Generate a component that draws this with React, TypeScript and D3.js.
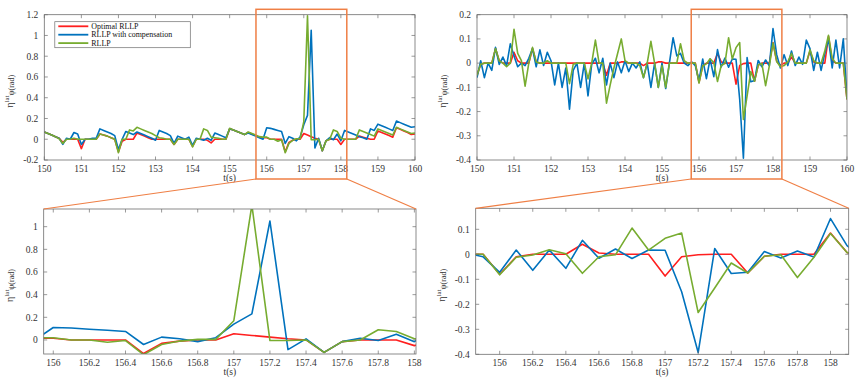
import React from 'react';
import * as d3 from 'd3';

// sampling of the recorded signals
const T0 = 150;
const DT = 0.1;

// lateral error (left column)
const optLat = [
  0.07, 0.055, 0.04, 0.025, 0.01, -0.03, 0.0, 0.0, 0.0, 0.0,
  -0.09, 0.0, 0.0, 0.0, 0.0, 0.05, 0.04, 0.03, 0.015, 0.0,
  -0.12, -0.02, 0.0, 0.0, 0.0, 0.06, 0.045, 0.03, 0.015, 0.0,
  0.0, 0.0, 0.0, 0.0, 0.0, -0.05, 0.0, 0.0, 0.0, 0.0,
  -0.07, 0.0, 0.0, 0.0, -0.01, -0.035, 0.0, 0.0, 0.0, 0.0,
  0.1, 0.09, 0.075, 0.06, 0.045, 0.065, 0.05, 0.035, 0.02, 0.015,
  0.015, 0.0, 0.0, 0.0, 0.0, -0.12, -0.03, -0.01, 0.0, 0.0,
  0.055, 0.04, 0.025, 0.01, 0.0, -0.11, -0.015, 0.0, 0.0, 0.0,
  -0.05, 0.0, 0.0, 0.0, 0.0, 0.03, 0.02, 0.01, 0.0, 0.0,
  0.08, 0.065, 0.05, 0.035, 0.02, 0.11, 0.095, 0.08, 0.065, 0.045,
  0.05,
];
const compLat = [
  0.07, 0.055, 0.04, 0.025, 0.01, -0.05, 0.01, 0.0, 0.065, 0.05,
  -0.05, 0.0, 0.0, 0.01, 0.01, 0.1, 0.085, 0.07, 0.055, 0.035,
  -0.1, 0.0, 0.075, 0.06, 0.045, 0.07, 0.055, 0.04, 0.025, 0.01,
  -0.01, 0.085, 0.07, 0.055, 0.035, -0.04, 0.03, 0.015, 0.0, 0.02,
  -0.06, 0.01, 0.0, -0.01, 0.01, -0.01, 0.06, 0.045, 0.03, 0.015,
  0.1, 0.09, 0.075, 0.06, 0.045, 0.06, 0.045, 0.03, 0.015, 0.0,
  0.11, 0.105, 0.095, 0.085, 0.075, -0.04, 0.025, 0.01, -0.015, 0.02,
  0.14, 0.23, 1.05, -0.085, 0.01, -0.11, -0.015, 0.015, -0.005, 0.05,
  -0.015, 0.085, 0.07, 0.055, 0.04, 0.025, 0.015, 0.0, 0.1, 0.085,
  0.145, 0.13, 0.115, 0.1, 0.085, 0.175, 0.16, 0.145, 0.13, 0.115,
  0.12,
];
const rllpLat = [
  0.07, 0.055, 0.04, 0.025, 0.005, -0.04, 0.0, 0.0, 0.01, 0.0,
  0.0, 0.0, 0.0, 0.0, 0.0, 0.05, 0.04, 0.03, 0.015, 0.0,
  -0.13, 0.0, 0.0, 0.09, 0.08, 0.115, 0.1, 0.085, 0.07, 0.055,
  0.035, 0.015, 0.01, 0.0, 0.0, -0.05, 0.0, 0.0, 0.0, 0.0,
  -0.075, 0.0, 0.0, 0.1, 0.085, 0.02, 0.015, 0.01, 0.0, 0.0,
  0.105, 0.09, 0.075, 0.06, 0.045, 0.07, 0.055, 0.04, 0.025, 0.02,
  0.02, 0.0, 0.0, -0.02, -0.005, -0.13, -0.04, -0.01, 0.005, 0.005,
  0.17, 1.19, -0.005, -0.005, 0.0, -0.11, -0.015, 0.0, 0.09, 0.075,
  0.01, 0.0, 0.0, 0.0, 0.0, 0.09, 0.075, 0.06, 0.045, 0.03,
  0.1, 0.085, 0.07, 0.055, 0.04, 0.115, 0.1, 0.085, 0.07, 0.055,
  0.06,
];

// heading error (right column)
const optYaw = [
  -0.05, -0.005, 0.0, 0.0, 0.0, 0.06, 0.01, 0.0, 0.0, 0.0,
  0.045, 0.01, 0.0, 0.0, 0.0, 0.06, 0.005, 0.0, 0.0, 0.0,
  0.0, 0.0, 0.0, 0.0, 0.0, 0.0, 0.0, 0.0, 0.0, 0.0,
  0.0, 0.0, 0.0, 0.0, 0.0, -0.05, 0.0, 0.0, 0.0, 0.005,
  0.005, 0.0, 0.0, 0.0, 0.0, -0.01, 0.0, 0.0, 0.0, 0.005,
  0.005, 0.0, 0.0, 0.0, 0.0, 0.0, 0.0, 0.0, 0.0, 0.0,
  -0.08, -0.01, 0.0, 0.0, 0.0, 0.04, 0.005, 0.0, 0.0, 0.0,
  -0.087, -0.01, -0.002, 0.0, 0.0, -0.075, -0.008, 0.0, 0.0, 0.0,
  0.085, 0.007, -0.01, 0.0, 0.0, 0.025, 0.0, 0.0, 0.0, 0.0,
  0.05, 0.005, 0.0, 0.0, 0.0, 0.11, 0.01, 0.0, 0.0, 0.0,
  -0.15,
];
const compYaw = [
  -0.06, 0.01, -0.06, 0.0, -0.03, 0.065, -0.005, 0.025, -0.01, 0.08,
  0.03, -0.015, 0.0, -0.01, 0.02, 0.06, -0.015, 0.055, -0.01, 0.045,
  0.01, -0.09, 0.0, -0.1, -0.02, -0.19, -0.03, 0.0, -0.1, 0.0,
  -0.135, -0.005, 0.02, -0.04, 0.02, -0.09, 0.0, -0.06, 0.005, -0.04,
  0.01, -0.035, 0.0, -0.02, 0.005, -0.06, 0.0, -0.1, 0.0, -0.1,
  0.0, -0.105, 0.0, 0.105, 0.03, 0.04, 0.0, -0.01, 0.005, -0.01,
  -0.072, 0.017, -0.064, 0.017, -0.056, 0.056, -0.016, 0.021, -0.017, 0.017,
  0.016, -0.15, -0.393, 0.023, -0.077, -0.072, 0.011, -0.015, 0.013, -0.011,
  0.143, 0.035, -0.02, 0.035, -0.01, 0.05, -0.01, 0.025, -0.005, 0.095,
  0.06, -0.03, 0.045, -0.03, 0.04, 0.1, -0.02, 0.095, -0.02, 0.1,
  -0.14,
];
const rllpYaw = [
  -0.05, -0.005, 0.0, 0.0, 0.0, 0.06, 0.01, 0.0, -0.015, 0.0,
  0.14, 0.04, 0.01, -0.095, 0.0, 0.065, 0.005, 0.0, 0.0, 0.01,
  0.0, 0.0, 0.0, 0.0, 0.0, -0.085, -0.005, 0.0, 0.0, 0.0,
  -0.065, 0.0, 0.095, 0.0, 0.0, -0.165, -0.09, -0.02, 0.04, 0.1,
  0.01, 0.0, 0.0, 0.0, -0.01, -0.06, 0.0, 0.09, 0.0, -0.1,
  -0.01, -0.1, 0.0, 0.0, 0.0, 0.08, 0.01, 0.0, 0.0, 0.0,
  -0.082, -0.012, -0.003, 0.018, 0.002, -0.076, -0.01, -0.002, 0.105, 0.017,
  0.064, 0.085, -0.233, -0.135, -0.035, -0.075, -0.008, -0.002, -0.093, -0.012,
  0.083, 0.007, -0.015, -0.01, 0.005, 0.04, 0.0, 0.0, 0.0, 0.0,
  0.055, 0.01, 0.0, 0.0, 0.05, 0.115, 0.02, 0.0, 0.0, 0.0,
  -0.15,
];

const seriesNames = ['Optimal RLLP', 'RLLP with compensation', 'RLLP'];
const seriesColors = ['#ff1f1f', '#0072bd', '#77ac30'];

// ticks
const fullXTicks = [150, 151, 152, 153, 154, 155, 156, 157, 158, 159, 160];
const zoomXTicks = [156, 156.2, 156.4, 156.6, 156.8, 157, 157.2, 157.4, 157.6, 157.8, 158];
const latYTicks = [-0.2, 0, 0.2, 0.4, 0.6, 0.8, 1, 1.2];
const latZoomYTicks = [0, 0.2, 0.4, 0.6, 0.8, 1];
const yawYTicks = [-0.4, -0.3, -0.2, -0.1, 0, 0.1, 0.2];
const yawZoomYTicks = [-0.4, -0.3, -0.2, -0.1, 0, 0.1];

// zoom windows
const latZoomX = [155.947, 158.009];
const latZoomY = [-0.124, 1.156];
const yawZoomX = [155.855, 158.11];
const yawZoomY = [-0.4, 0.184];
const latRectX = [155.71, 158.16];
const yawRectX = [155.79, 158.24];

const FONT = 'Liberation Serif, Times New Roman, serif';
const ORANGE = '#ef7f45';
const AXIS = '#6e6e6e';

const fmt = (v: number) => String(+v.toFixed(2));

type Box = { x0: number; x1: number; y0: number; y1: number };

function Panel({ id, box, xDomain, yDomain, xTicks, yTicks, data, legend }: any) {
  const b: Box = box;
  const x = d3.scaleLinear().domain(xDomain).range([b.x0, b.x1]);
  const y = d3.scaleLinear().domain(yDomain).range([b.y1, b.y0]);
  const line = d3
    .line<number>()
    .x((_, i) => x(T0 + i * DT))
    .y((d) => y(d));
  const tl = 3.5;
  const midY = (b.y0 + b.y1) / 2;
  return (
    <g>
      <defs>
        <clipPath id={id}>
          <rect x={b.x0} y={b.y0} width={b.x1 - b.x0} height={b.y1 - b.y0} />
        </clipPath>
      </defs>
      <g clipPath={`url(#${id})`}>
        {data.map((s: number[], k: number) => (
          <path key={k} d={line(s) || ''} fill="none" stroke={seriesColors[k]} strokeWidth={1.6} strokeLinejoin="round" />
        ))}
      </g>
      <rect x={b.x0} y={b.y0} width={b.x1 - b.x0} height={b.y1 - b.y0} fill="none" stroke={AXIS} strokeWidth={0.8} />
      {xTicks.map((t: number) => (
        <g key={'x' + t}>
          <line x1={x(t)} x2={x(t)} y1={b.y1} y2={b.y1 - tl} stroke={AXIS} strokeWidth={0.7} />
          <line x1={x(t)} x2={x(t)} y1={b.y0} y2={b.y0 + tl} stroke={AXIS} strokeWidth={0.7} />
          <text x={x(t)} y={b.y1 + 11.5} textAnchor="middle" fontSize={9.5} fill="#333" fontFamily={FONT}>
            {fmt(t)}
          </text>
        </g>
      ))}
      {yTicks.map((t: number) => (
        <g key={'y' + t}>
          <line x1={b.x0} x2={b.x0 + tl} y1={y(t)} y2={y(t)} stroke={AXIS} strokeWidth={0.7} />
          <line x1={b.x1} x2={b.x1 - tl} y1={y(t)} y2={y(t)} stroke={AXIS} strokeWidth={0.7} />
          <text x={b.x0 - 6} y={y(t) + 3.3} textAnchor="end" fontSize={9.5} fill="#333" fontFamily={FONT}>
            {fmt(t)}
          </text>
        </g>
      ))}
      <text x={(b.x0 + b.x1) / 2} y={b.y1 + 20.5} textAnchor="middle" fontSize={9.5} fill="#333" fontFamily={FONT}>
        t(s)
      </text>
      <text transform={`translate(${b.x0 - 31},${midY + 4}) rotate(-90)`} textAnchor="middle" fontSize={10} fill="#333" fontFamily={FONT}>
        η
        <tspan fontSize={7} dy={-4}>lat</tspan>
        <tspan fontSize={8} dy={5}>ψ(rad)</tspan>
      </text>
      {legend && (
        <g>
          <rect x={b.x0 + 10.5} y={b.y0 + 7} width={135.5} height={26} fill="#fff" stroke={AXIS} strokeWidth={0.7} />
          {seriesNames.map((n, k) => (
            <g key={n}>
              <line x1={b.x0 + 14} x2={b.x0 + 44} y1={b.y0 + 11.6 + k * 8.4} y2={b.y0 + 11.6 + k * 8.4} stroke={seriesColors[k]} strokeWidth={1.8} />
              <text x={b.x0 + 47} y={b.y0 + 14.3 + k * 8.4} fontSize={7.9} fill="#111" fontFamily={FONT}>
                {n}
              </text>
            </g>
          ))}
        </g>
      )}
    </g>
  );
}

export default function App() {
  const tl: Box = { x0: 44.3, x1: 415, y0: 14.7, y1: 160 };
  const tr: Box = { x0: 477, x1: 847, y0: 14.7, y1: 160 };
  const bl: Box = { x0: 43.7, x1: 416, y0: 209, y1: 354 };
  const br: Box = { x0: 475.7, x1: 848.7, y0: 208.3, y1: 354.3 };

  const xl = d3.scaleLinear().domain([150, 160]).range([tl.x0, tl.x1]);
  const xr = d3.scaleLinear().domain([150, 160]).range([tr.x0, tr.x1]);
  const rTop = 9.3;
  const rBot = 179;
  const lrx0 = xl(latRectX[0]);
  const lrx1 = xl(latRectX[1]);
  const yrx0 = xr(yawRectX[0]);
  const yrx1 = xr(yawRectX[1]);

  return (
    <svg width={864} height={378} style={{ position: 'absolute', left: 0, top: 0, background: '#fff' }}>
      <Panel id="c1" box={tl} xDomain={[150, 160]} yDomain={[-0.2, 1.2]} xTicks={fullXTicks} yTicks={latYTicks} data={[optLat, compLat, rllpLat]} legend />
      <Panel id="c2" box={tr} xDomain={[150, 160]} yDomain={[-0.4, 0.2]} xTicks={fullXTicks} yTicks={yawYTicks} data={[optYaw, compYaw, rllpYaw]} />
      <Panel id="c3" box={bl} xDomain={latZoomX} yDomain={latZoomY} xTicks={zoomXTicks} yTicks={latZoomYTicks} data={[optLat, compLat, rllpLat]} />
      <Panel id="c4" box={br} xDomain={yawZoomX} yDomain={yawZoomY} xTicks={zoomXTicks} yTicks={yawZoomYTicks} data={[optYaw, compYaw, rllpYaw]} />

      <rect x={lrx0} y={rTop} width={lrx1 - lrx0} height={rBot - rTop} fill="none" stroke={ORANGE} strokeWidth={1.5} />
      <rect x={yrx0} y={rTop} width={yrx1 - yrx0} height={rBot - rTop} fill="none" stroke={ORANGE} strokeWidth={1.5} />
      <line x1={lrx0} y1={rBot} x2={bl.x0} y2={bl.y0} stroke={ORANGE} strokeWidth={1.2} />
      <line x1={lrx1} y1={rBot} x2={bl.x1} y2={bl.y0} stroke={ORANGE} strokeWidth={1.2} />
      <line x1={yrx0} y1={rBot} x2={br.x0} y2={br.y0} stroke={ORANGE} strokeWidth={1.2} />
      <line x1={yrx1} y1={rBot} x2={br.x1} y2={br.y0} stroke={ORANGE} strokeWidth={1.2} />
    </svg>
  );
}
